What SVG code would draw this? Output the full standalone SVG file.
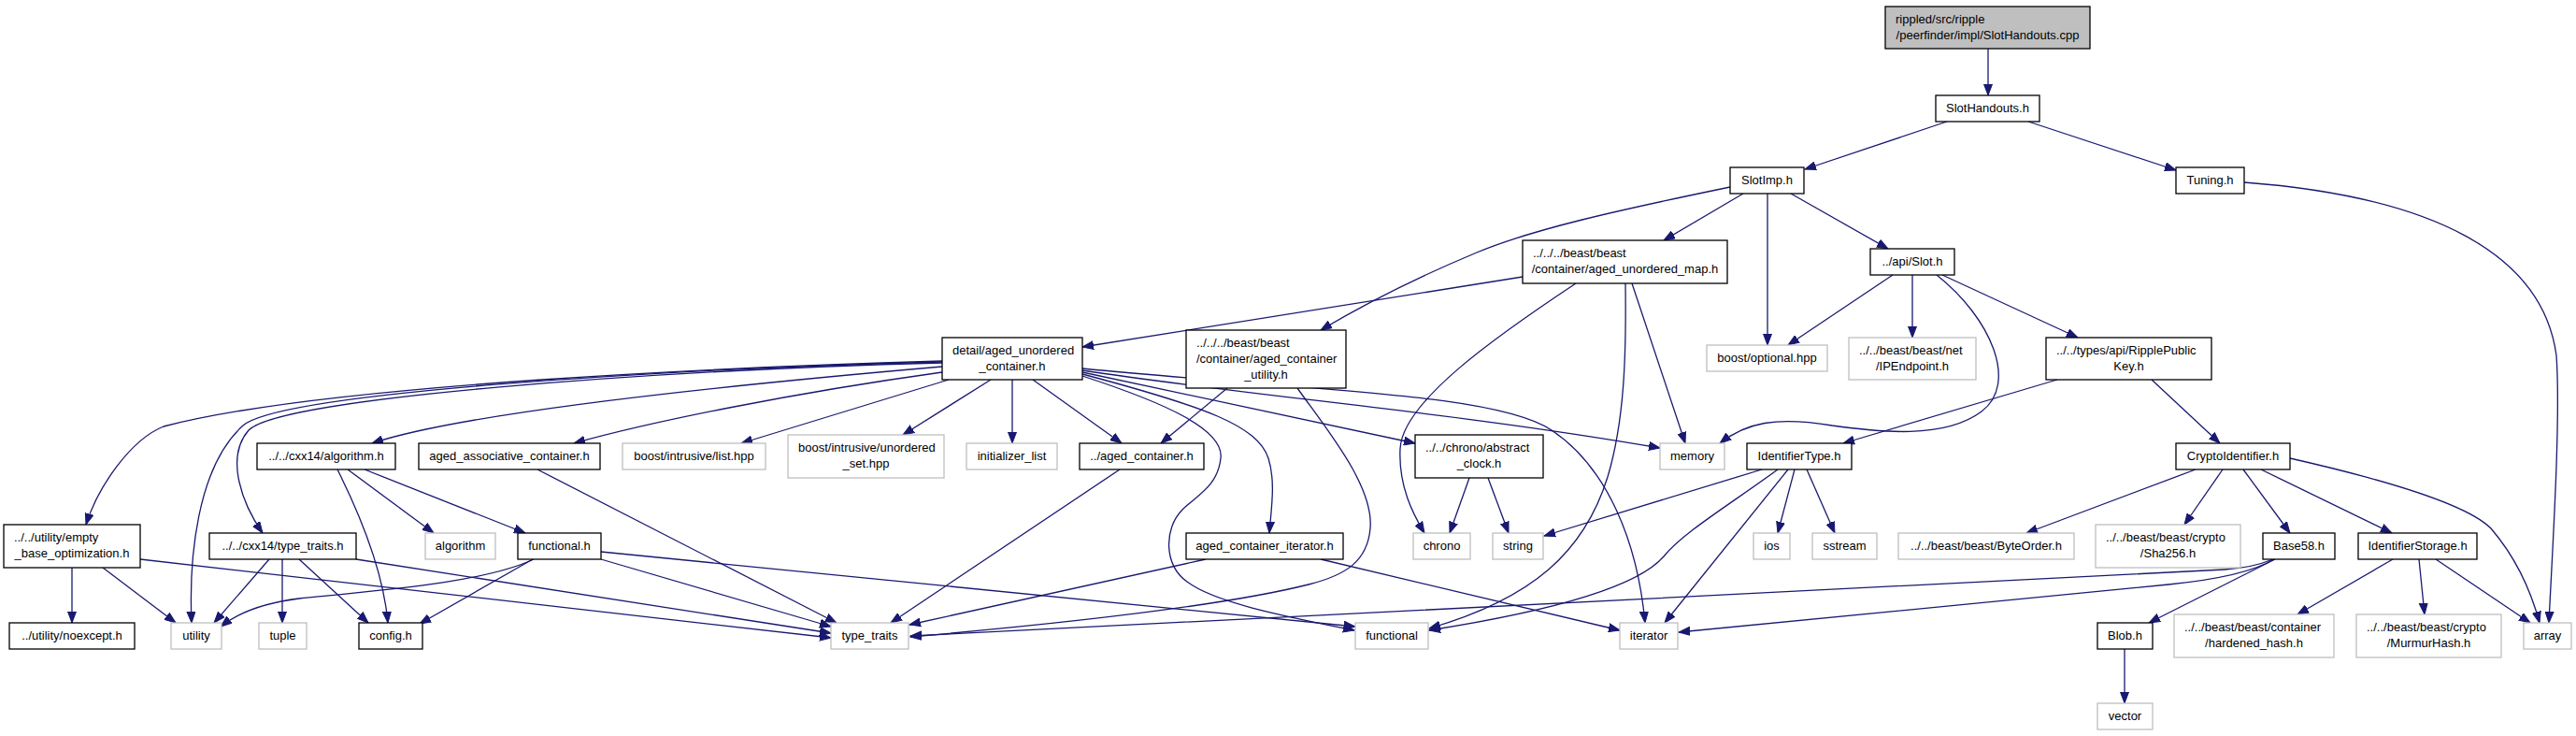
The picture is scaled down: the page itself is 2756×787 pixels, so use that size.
<svg xmlns="http://www.w3.org/2000/svg" width="2756" height="787" viewBox="0 0 2756 787">
<style>
.nb{fill:#fff;stroke:#000;stroke-width:1.3}
.ng{fill:#fff;stroke:#bfbfbf;stroke-width:1.3}
.nr{fill:#bfbfbf;stroke:#000;stroke-width:1.3}
text{font-family:"Liberation Sans",Arial,sans-serif;font-size:13px;fill:#000}
.c{text-anchor:middle}
.e{fill:none;stroke:#191970;stroke-width:1.3;marker-end:url(#ah)}
</style>
<defs>
<marker id="ah" markerUnits="userSpaceOnUse" markerWidth="13" markerHeight="10" refX="12" refY="5" orient="auto"><path d="M0,0.5 L12,5 L0,9.5 z" fill="#191970" stroke="#191970" stroke-width="1"/></marker>
</defs>
<rect width="2756" height="787" fill="#fff"/>
<g id="edges">
<path class="e" d="M2127,52 L2127,102"/>
<path class="e" d="M2083,130 L1931,181"/>
<path class="e" d="M2170,130 L2328,182"/>
<path class="e" d="M2401,195 C2600,210 2720,270 2735,380 C2740,450 2730,600 2727,666"/>
<path class="e" d="M1851,200 C1730,225 1640,245 1580,270 C1520,295 1460,325 1413,353"/>
<path class="e" d="M1865,207 L1780,257"/>
<path class="e" d="M1891,207 L1891,369"/>
<path class="e" d="M1916,207 L2020,266"/>
<path class="e" d="M1629,296 L1158,371"/>
<path class="e" d="M1686,303 C1600,360 1500,430 1498,480 C1496,520 1512,550 1524,570"/>
<path class="e" d="M1746,303 L1803,474"/>
<path class="e" d="M1739,303 C1740,380 1738,450 1720,510 C1695,590 1640,640 1529,672"/>
<path class="e" d="M2025,294 L1913,369"/>
<path class="e" d="M2046,294 L2046,361"/>
<path class="e" d="M2078,294 L2223,361"/>
<path class="e" d="M2072,294 C2130,340 2160,410 2120,440 C2080,470 2010,462 1960,455 C1900,445 1868,452 1840,474"/>
<path class="e" d="M2201,406 L1972,474"/>
<path class="e" d="M2302,406 L2375,474"/>
<path class="e" d="M2349,502 L2168,570"/>
<path class="e" d="M2378,502 L2337,561"/>
<path class="e" d="M2400,502 L2450,570"/>
<path class="e" d="M2419,502 L2559,570"/>
<path class="e" d="M2450,490 C2560,515 2640,540 2665,565 C2695,600 2710,640 2717,666"/>
<path class="e" d="M2434,598 L2299,666"/>
<path class="e" d="M2432,598 Q2410,607 2380,609 L974,680"/>
<path class="e" d="M2433,598 C2410,612 2370,620 2320,625 L1796,676"/>
<path class="e" d="M1885,502 L1652,573"/>
<path class="e" d="M1902,502 C1850,540 1800,570 1780,595 C1750,630 1650,655 1529,674"/>
<path class="e" d="M1913,502 L1781,666"/>
<path class="e" d="M1920,502 L1902,570"/>
<path class="e" d="M1933,502 L1963,570"/>
<path class="e" d="M2560,598 L2458,657"/>
<path class="e" d="M2588,598 L2594,657"/>
<path class="e" d="M2606,598 L2707,666"/>
<path class="e" d="M2273,694 L2273,752"/>
<path class="e" d="M1572,511 L1551,570"/>
<path class="e" d="M1592,511 L1614,570"/>
<path class="e" d="M1290,598 L973,668"/>
<path class="e" d="M1413,598 L1733,674"/>
<path class="e" d="M1198,502 L953,666"/>
<path class="e" d="M1313,415 L1242,474"/>
<path class="e" d="M1388,415 C1420,460 1470,520 1466,565 C1463,600 1440,615 1400,625 C1300,650 1100,670 974,681"/>
<path class="e" d="M1158,402 C1250,432 1310,460 1306,490 C1303,520 1280,530 1265,545 C1245,565 1245,605 1270,622 C1300,645 1380,660 1449,674"/>
<path class="e" d="M1158,400 C1290,435 1345,455 1357,490 C1365,515 1360,545 1358,570"/>
<path class="e" d="M1158,398 L1514,474"/>
<path class="e" d="M1158,396 C1350,425 1550,440 1776,479"/>
<path class="e" d="M1158,394 C1400,418 1600,420 1660,460 C1720,500 1752,580 1760,666"/>
<path class="e" d="M1008,386 C800,392 350,410 175,456 C140,470 105,520 92,561"/>
<path class="e" d="M1008,387 C700,395 300,420 260,455 C210,500 202,600 205,666"/>
<path class="e" d="M1008,388 C700,396 300,425 266,460 C240,490 260,540 281,570"/>
<path class="e" d="M1008,392 C800,410 500,440 398,474"/>
<path class="e" d="M1008,398 C850,420 700,450 614,474"/>
<path class="e" d="M1015,406 L793,474"/>
<path class="e" d="M1060,406 L966,465"/>
<path class="e" d="M1083,406 L1083,474"/>
<path class="e" d="M1105,406 L1200,474"/>
<path class="e" d="M575,502 L895,666"/>
<path class="e" d="M571,598 C520,622 420,630 320,640 C280,645 255,655 236,670"/>
<path class="e" d="M570,598 L449,667"/>
<path class="e" d="M643,598 L889,670"/>
<path class="e" d="M643,590 L1450,670"/>
<path class="e" d="M361,502 C385,550 410,610 415,666"/>
<path class="e" d="M372,502 L464,570"/>
<path class="e" d="M390,502 L562,570"/>
<path class="e" d="M288,598 L229,666"/>
<path class="e" d="M302,598 L302,666"/>
<path class="e" d="M320,598 L394,666"/>
<path class="e" d="M381,598 L889,677"/>
<path class="e" d="M77,607 L77,666"/>
<path class="e" d="M110,607 L188,666"/>
<path class="e" d="M150,598 L889,682"/>
</g>
<g id="n_root"><rect class="nr" x="2017" y="7" width="219" height="45"/><text x="2028" y="24.5">rippled/src/ripple</text><text class="c" x="2126.5" y="41.5">/peerfinder/impl/SlotHandouts.cpp</text></g>
<g id="n_slothandouts"><rect class="nb" x="2071" y="102" width="111" height="28"/><text class="c" x="2126.5" y="120">SlotHandouts.h</text></g>
<g id="n_slotimp"><rect class="nb" x="1851" y="179" width="79" height="28"/><text class="c" x="1890.5" y="197">SlotImp.h</text></g>
<g id="n_tuning"><rect class="nb" x="2328" y="179" width="73" height="28"/><text class="c" x="2364.5" y="197">Tuning.h</text></g>
<g id="n_map"><rect class="nb" x="1629" y="257" width="219" height="46"/><text x="1640" y="274.5">../../../beast/beast</text><text class="c" x="1738.5" y="291.5">/container/aged_unordered_map.h</text></g>
<g id="n_util"><rect class="nb" x="1269" y="353" width="171" height="62"/><text x="1280" y="370.5">../../../beast/beast</text><text x="1280" y="387.5">/container/aged_container</text><text class="c" x="1354.5" y="404.5">_utility.h</text></g>
<g id="n_optional"><rect class="ng" x="1826" y="369" width="129" height="28"/><text class="c" x="1890.5" y="387">boost/optional.hpp</text></g>
<g id="n_slot"><rect class="nb" x="2001" y="266" width="90" height="28"/><text class="c" x="2046" y="284">../api/Slot.h</text></g>
<g id="n_ipendpoint"><rect class="ng" x="1978" y="361" width="136" height="45"/><text x="1989" y="378.5">../../beast/beast/net</text><text class="c" x="2046" y="395.5">/IPEndpoint.h</text></g>
<g id="n_rpk"><rect class="nb" x="2189" y="361" width="177" height="45"/><text x="2200" y="378.5">../../types/api/RipplePublic</text><text class="c" x="2277.5" y="395.5">Key.h</text></g>
<g id="n_detail"><rect class="nb" x="1008" y="361" width="150" height="45"/><text x="1019" y="378.5">detail/aged_unordered</text><text class="c" x="1083" y="395.5">_container.h</text></g>
<g id="n_empty"><rect class="nb" x="4" y="561" width="146" height="46"/><text x="15" y="578.5">../../utility/empty</text><text class="c" x="77" y="595.5">_base_optimization.h</text></g>
<g id="n_noexcept"><rect class="nb" x="10" y="666" width="134" height="28"/><text class="c" x="77" y="684">../utility/noexcept.h</text></g>
<g id="n_utility"><rect class="ng" x="183" y="666" width="54" height="28"/><text class="c" x="210" y="684">utility</text></g>
<g id="n_tuple"><rect class="ng" x="277" y="666" width="51" height="28"/><text class="c" x="302.5" y="684">tuple</text></g>
<g id="n_config"><rect class="nb" x="384" y="666" width="68" height="28"/><text class="c" x="418" y="684">config.h</text></g>
<g id="n_cxxtt"><rect class="nb" x="224" y="570" width="157" height="28"/><text class="c" x="302.5" y="588">../../cxx14/type_traits.h</text></g>
<g id="n_algorithm"><rect class="ng" x="455" y="570" width="75" height="28"/><text class="c" x="492.5" y="588">algorithm</text></g>
<g id="n_functionalh"><rect class="nb" x="554" y="570" width="89" height="28"/><text class="c" x="598.5" y="588">functional.h</text></g>
<g id="n_cxxalg"><rect class="nb" x="275" y="474" width="148" height="28"/><text class="c" x="349" y="492">../../cxx14/algorithm.h</text></g>
<g id="n_assoc"><rect class="nb" x="448" y="474" width="194" height="28"/><text class="c" x="545" y="492">aged_associative_container.h</text></g>
<g id="n_list"><rect class="ng" x="666" y="474" width="153" height="28"/><text class="c" x="742.5" y="492">boost/intrusive/list.hpp</text></g>
<g id="n_uset"><rect class="ng" x="843" y="465" width="167" height="46"/><text x="854" y="482.5">boost/intrusive/unordered</text><text class="c" x="926.5" y="499.5">_set.hpp</text></g>
<g id="n_init"><rect class="ng" x="1034" y="474" width="97" height="28"/><text class="c" x="1082.5" y="492">initializer_list</text></g>
<g id="n_agedc"><rect class="nb" x="1155" y="474" width="133" height="28"/><text class="c" x="1221.5" y="492">../aged_container.h</text></g>
<g id="n_iterh"><rect class="nb" x="1269" y="570" width="168" height="28"/><text class="c" x="1353" y="588">aged_container_iterator.h</text></g>
<g id="n_typetraits"><rect class="ng" x="889" y="666" width="83" height="28"/><text class="c" x="930.5" y="684">type_traits</text></g>
<g id="n_clock"><rect class="nb" x="1514" y="465" width="137" height="46"/><text x="1525" y="482.5">../../chrono/abstract</text><text class="c" x="1582.5" y="499.5">_clock.h</text></g>
<g id="n_memory"><rect class="ng" x="1776" y="474" width="69" height="28"/><text class="c" x="1810.5" y="492">memory</text></g>
<g id="n_idtype"><rect class="nb" x="1869" y="474" width="112" height="28"/><text class="c" x="1925" y="492">IdentifierType.h</text></g>
<g id="n_chrono"><rect class="ng" x="1512" y="570" width="61" height="28"/><text class="c" x="1542.5" y="588">chrono</text></g>
<g id="n_string"><rect class="ng" x="1597" y="570" width="54" height="28"/><text class="c" x="1624" y="588">string</text></g>
<g id="n_ios"><rect class="ng" x="1876" y="570" width="39" height="28"/><text class="c" x="1895.5" y="588">ios</text></g>
<g id="n_sstream"><rect class="ng" x="1939" y="570" width="69" height="28"/><text class="c" x="1973.5" y="588">sstream</text></g>
<g id="n_byteorder"><rect class="ng" x="2031" y="570" width="188" height="28"/><text class="c" x="2125" y="588">../../beast/beast/ByteOrder.h</text></g>
<g id="n_functional"><rect class="ng" x="1450" y="666" width="78" height="28"/><text class="c" x="1489" y="684">functional</text></g>
<g id="n_iterator"><rect class="ng" x="1733" y="666" width="62" height="28"/><text class="c" x="1764" y="684">iterator</text></g>
<g id="n_crypto"><rect class="nb" x="2328" y="474" width="122" height="28"/><text class="c" x="2389" y="492">CryptoIdentifier.h</text></g>
<g id="n_sha256"><rect class="ng" x="2242" y="561" width="155" height="46"/><text x="2253" y="578.5">../../beast/beast/crypto</text><text class="c" x="2319.5" y="595.5">/Sha256.h</text></g>
<g id="n_base58"><rect class="nb" x="2421" y="570" width="77" height="28"/><text class="c" x="2459.5" y="588">Base58.h</text></g>
<g id="n_idstorage"><rect class="nb" x="2523" y="570" width="127" height="28"/><text class="c" x="2586.5" y="588">IdentifierStorage.h</text></g>
<g id="n_array"><rect class="ng" x="2700" y="666" width="51" height="28"/><text class="c" x="2725.5" y="684">array</text></g>
<g id="n_blob"><rect class="nb" x="2244" y="666" width="59" height="28"/><text class="c" x="2273.5" y="684">Blob.h</text></g>
<g id="n_hardened"><rect class="ng" x="2326" y="657" width="171" height="46"/><text x="2337" y="674.5">../../beast/beast/container</text><text class="c" x="2411.5" y="691.5">/hardened_hash.h</text></g>
<g id="n_murmur"><rect class="ng" x="2521" y="657" width="155" height="46"/><text x="2532" y="674.5">../../beast/beast/crypto</text><text class="c" x="2598.5" y="691.5">/MurmurHash.h</text></g>
<g id="n_vector"><rect class="ng" x="2244" y="752" width="59" height="28"/><text class="c" x="2273.5" y="770">vector</text></g>
</svg>
